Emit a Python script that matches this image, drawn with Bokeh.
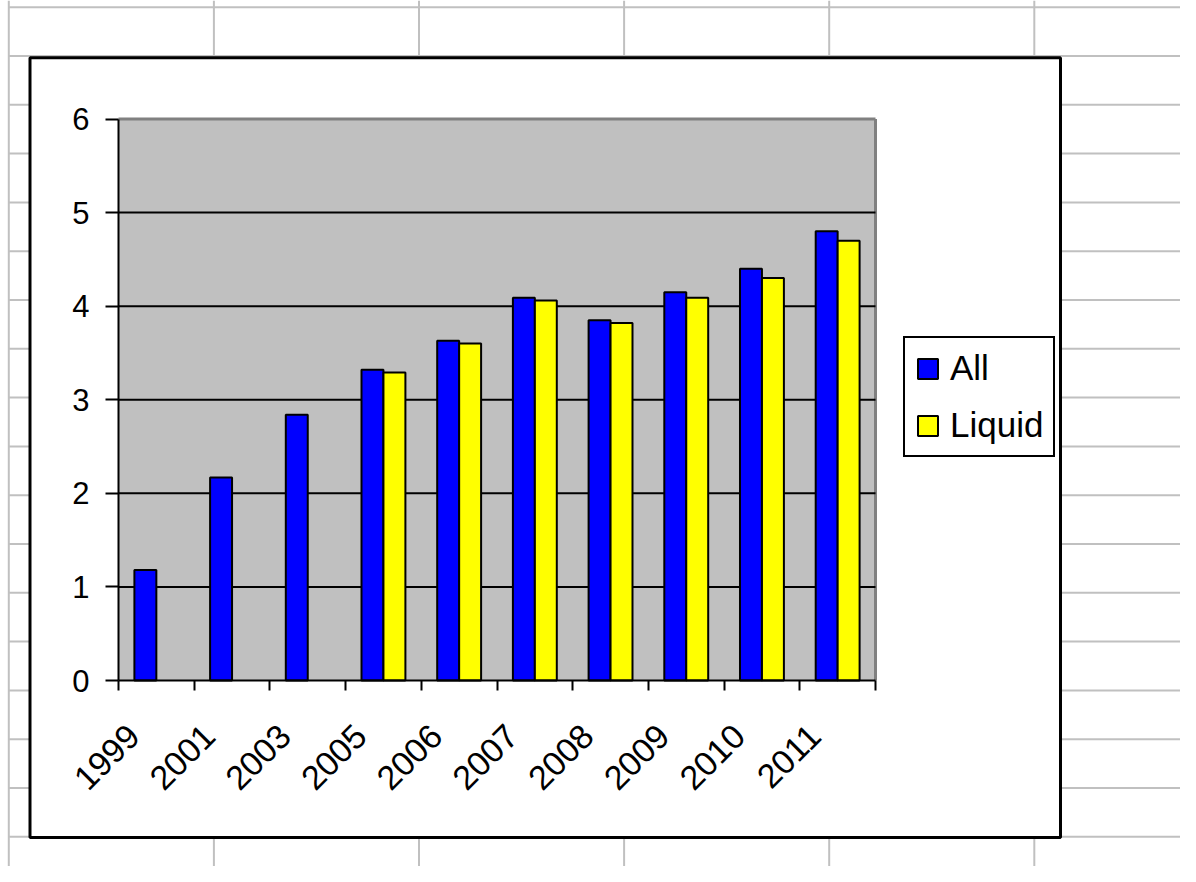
import numpy as np
from bokeh.plotting import figure
from bokeh.models import (Range1d, FixedTicker, Legend, LegendItem,
                          ColumnDataSource, LinearAxis)
from bokeh.transform import dodge
from bokeh.embed import file_html
from bokeh.resources import INLINE

# ---- data ----
years = ["1999", "2001", "2003", "2005", "2006", "2007", "2008", "2009", "2010", "2011"]
all_vals = [1.18, 2.17, 2.84, 3.32, 3.63, 4.09, 3.85, 4.15, 4.40, 4.80]
liquid_years = ["2005", "2006", "2007", "2008", "2009", "2010", "2011"]
liquid_vals = [3.29, 3.60, 4.06, 3.82, 4.09, 4.30, 4.70]
y_ticks = [0, 1, 2, 3, 4, 5, 6]
grid_ticks = [1, 2, 3, 4, 5]
y_max = 6

n = len(years)
pos = {y: i + 0.5 for i, y in enumerate(years)}
src_all = ColumnDataSource(dict(x=[pos[y] for y in years], top=all_vals))
src_liq = ColumnDataSource(dict(x=[pos[y] for y in liquid_years], top=liquid_vals))

# ---- layout constants (pixels) ----
W, H = 1180, 866
FONT = "Liberation Sans"
PL, PR, PT, PB = 118.0, 875.0, 118.5, 680.0     # plot area in canvas pixels
kx = (PR - PL) / n
ky = (PB - PT) / y_max
xs = -PL / kx
ys = -(H - PB) / ky

p = figure(width=W, height=H, output_backend="svg", toolbar_location=None,
           x_range=Range1d(0, W), y_range=Range1d(H, 0),
           x_axis_type=None, y_axis_type=None, min_border=0,
           min_border_left=0, min_border_right=0, min_border_top=0,
           min_border_bottom=0)
p.extra_x_ranges = {"xv": Range1d(xs, xs + W / kx)}
p.extra_y_ranges = {"yv": Range1d(ys, ys + H / ky)}
p.outline_line_color = None
p.border_fill_color = "white"
p.background_fill_color = "white"

# ---- spreadsheet background grid (decoration, canvas pixels) ----
sheet_cols = [8.3 + 205.1 * k for k in range(6)]
sheet_rows = [6.7 + 48.8 * k for k in range(19)]
p.segment(x0=sheet_cols, x1=sheet_cols, y0=[0] * len(sheet_cols), y1=[H] * len(sheet_cols),
          line_color="#C0C0C0", line_width=2)
p.segment(x0=[8.3] * len(sheet_rows), x1=[W] * len(sheet_rows), y0=sheet_rows, y1=sheet_rows,
          line_color="#C0C0C0", line_width=2)

# chart area (white box with black border)
p.quad(left=[29.5], right=[1060], top=[57.3], bottom=[837],
       fill_color="white", line_color="black", line_width=3)

# plot area (gray) in data space
p.quad(left=[0], right=[n], bottom=[0], top=[y_max], fill_color="#C0C0C0",
       line_color=None, x_range_name="xv", y_range_name="yv")
p.segment(x0=[0, n], x1=[n, n], y0=[y_max, 0], y1=[y_max, y_max],
          line_color="#808080", line_width=3, x_range_name="xv", y_range_name="yv")

# horizontal gridlines
p.segment(x0=[0] * len(grid_ticks), x1=[n] * len(grid_ticks), y0=grid_ticks, y1=grid_ticks,
          line_color="black", line_width=2, x_range_name="xv", y_range_name="yv")

# ---- bars ----
r_all = p.vbar(x=dodge("x", -0.145), top="top", width=0.29, source=src_all,
               fill_color="#0000FF", line_color="black", line_width=2,
               x_range_name="xv", y_range_name="yv")
r_liq = p.vbar(x=dodge("x", 0.145), top="top", width=0.29, source=src_liq,
               fill_color="#FFFF00", line_color="black", line_width=2,
               x_range_name="xv", y_range_name="yv")

# ---- axes ----
yax = LinearAxis(x_range_name="xv", y_range_name="yv", fixed_location=0,
                 bounds=(0, y_max),
                 ticker=FixedTicker(ticks=y_ticks),
                 axis_line_width=2, axis_line_color="black",
                 major_tick_line_width=2, major_tick_out=13, major_tick_in=0,
                 minor_tick_line_color=None,
                 major_label_text_font=FONT, major_label_text_font_size="31px",
                 major_label_text_color="black", major_label_standoff=16)
p.add_layout(yax, "left")

label_pos = [i + 0.2 for i in range(n)]
xax = LinearAxis(x_range_name="xv", y_range_name="yv", fixed_location=0,
                 bounds=(0, n),
                 ticker=FixedTicker(ticks=label_pos, minor_ticks=list(range(n + 1))),
                 major_label_overrides={lp: y for lp, y in zip(label_pos, years)},
                 axis_line_width=2, axis_line_color="black",
                 major_tick_line_color=None, major_tick_out=10, major_tick_in=0,
                 minor_tick_line_color="black", minor_tick_line_width=2,
                 minor_tick_out=10, minor_tick_in=0,
                 major_label_orientation=np.pi / 4,
                 major_label_text_font=FONT, major_label_text_font_size="34px",
                 major_label_text_color="black", major_label_standoff=40)
p.add_layout(xax, "below")

# ---- legend ----
legend = Legend(items=[LegendItem(label="All", renderers=[r_all]),
                       LegendItem(label="Liquid", renderers=[r_liq])],
                location=(903, H - 457), orientation="vertical",
                label_text_font=FONT, label_text_font_size="35px",
                label_text_color="black",
                glyph_width=25, glyph_height=25, label_standoff=10,
                spacing=17, padding=10, margin=0,
                border_line_color="black", border_line_width=2, border_line_alpha=1,
                background_fill_color="white", background_fill_alpha=1)
p.add_layout(legend, "center")

open("out.html", "w").write(file_html(p, INLINE))
